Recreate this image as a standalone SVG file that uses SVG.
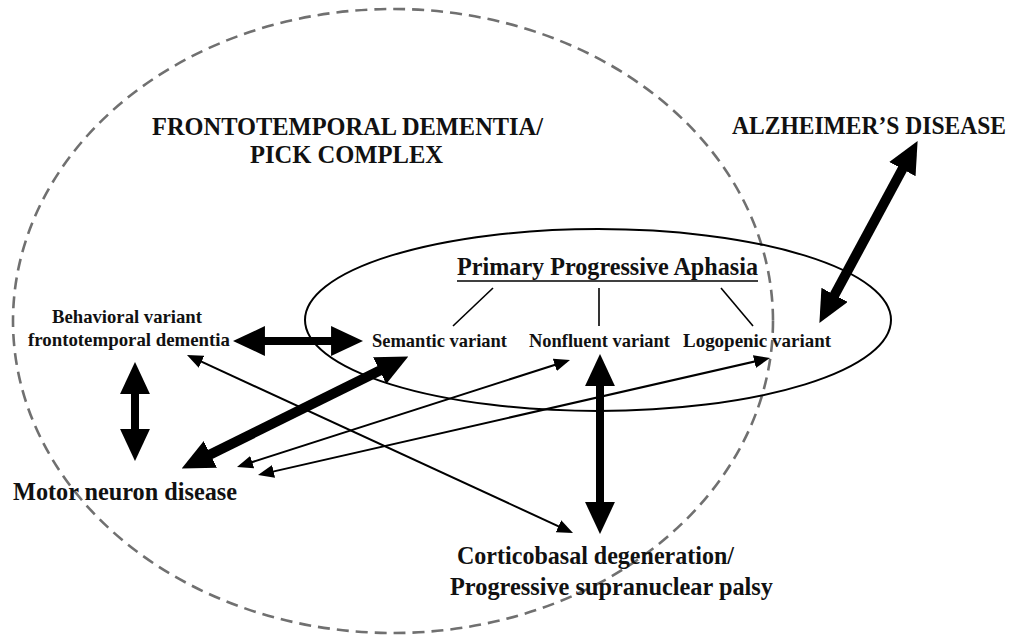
<svg xmlns="http://www.w3.org/2000/svg" width="1022" height="638" viewBox="0 0 1022 638">
<style>
  .t{font-family:"Liberation Serif","Times New Roman",serif;font-weight:bold;fill:#111;}
  .big{font-size:25px;}
  .mid{font-size:25px;}
  .sm{font-size:19.5px;}
  .thick{stroke:#000;fill:none;}
  .thin{stroke:#000;stroke-width:2;fill:none;marker-start:url(#sh);marker-end:url(#sh);}
  .tick{stroke:#000;stroke-width:1.6;fill:none;}
</style>
<defs>
  <marker id="bh" markerUnits="userSpaceOnUse" markerWidth="32" markerHeight="30" viewBox="0 0 30 28" refX="14" refY="14" orient="auto-start-reverse">
    <path d="M0,0 L30,14 L0,28 z" fill="#000"/>
  </marker>
  <marker id="sh" markerUnits="userSpaceOnUse" markerWidth="16" markerHeight="13" viewBox="0 0 16 13" refX="12" refY="6.5" orient="auto-start-reverse">
    <path d="M0,0 L16,6.5 L0,13 z" fill="#000"/>
  </marker>
</defs>
<rect width="1022" height="638" fill="#fff"/>

<g id="ftd-region">
  <ellipse cx="393" cy="321" rx="380" ry="312" fill="none" stroke="#707070" stroke-width="2.6" stroke-dasharray="12 7"/>
  <text class="t big" x="152" y="135" textLength="391" lengthAdjust="spacingAndGlyphs">FRONTOTEMPORAL DEMENTIA/</text>
  <text class="t big" x="250" y="163" textLength="193" lengthAdjust="spacingAndGlyphs">PICK COMPLEX</text>
</g>

<g id="ppa-region">
  <ellipse cx="598" cy="320" rx="293" ry="91" fill="none" stroke="#000" stroke-width="2"/>
  <text class="t mid" x="457" y="275" textLength="301" lengthAdjust="spacingAndGlyphs">Primary Progressive Aphasia</text>
  <line x1="457" y1="281" x2="758" y2="281" stroke="#000" stroke-width="1.6"/>
  <line class="tick" x1="493" y1="288" x2="453" y2="326"/>
  <line class="tick" x1="599" y1="288" x2="599" y2="326"/>
  <line class="tick" x1="721" y1="288" x2="753" y2="326"/>
</g>

<g id="alzheimers">
  <text class="t big" x="732" y="134" textLength="274" lengthAdjust="spacingAndGlyphs">ALZHEIMER’S DISEASE</text>
</g>

<g id="bvftd">
  <text class="t sm" x="52" y="323" textLength="150" lengthAdjust="spacingAndGlyphs">Behavioral variant</text>
  <text class="t sm" x="28" y="346" textLength="202" lengthAdjust="spacingAndGlyphs">frontotemporal dementia</text>
</g>

<g id="semantic">
  <text class="t sm" x="372" y="347" textLength="135" lengthAdjust="spacingAndGlyphs">Semantic variant</text>
</g>

<g id="nonfluent">
  <text class="t sm" x="529" y="347" textLength="141" lengthAdjust="spacingAndGlyphs">Nonfluent variant</text>
</g>

<g id="logopenic">
  <text class="t sm" x="683" y="347" textLength="148" lengthAdjust="spacingAndGlyphs">Logopenic variant</text>
</g>

<g id="mnd">
  <text class="t mid" x="13" y="500" textLength="224" lengthAdjust="spacingAndGlyphs">Motor neuron disease</text>
</g>

<g id="cbd-psp">
  <text class="t mid" x="457" y="564" textLength="277" lengthAdjust="spacingAndGlyphs">Corticobasal degeneration/</text>
  <text class="t mid" x="450" y="595" textLength="323" lengthAdjust="spacingAndGlyphs">Progressive supranuclear palsy</text>
</g>

<g id="connectors">
  <line class="thick" x1="250" y1="341" x2="346" y2="341" stroke-width="8" marker-start="url(#bh)" marker-end="url(#bh)"/>
  <line class="thick" x1="135" y1="379" x2="135" y2="444" stroke-width="8" marker-start="url(#bh)" marker-end="url(#bh)"/>
  <line class="thick" x1="197" y1="461" x2="393" y2="364" stroke-width="10" marker-start="url(#bh)" marker-end="url(#bh)"/>
  <line class="thick" x1="600" y1="371" x2="600" y2="517" stroke-width="8" marker-start="url(#bh)" marker-end="url(#bh)"/>
  <line class="thick" x1="827.5" y1="308" x2="909.5" y2="156" stroke-width="10" marker-start="url(#bh)" marker-end="url(#bh)"/>
  <line class="thin" x1="190.6" y1="356.7" x2="569.4" y2="531.3"/>
  <line class="thin" x1="566.2" y1="361.2" x2="240.8" y2="465.8"/>
  <line class="thin" x1="766.1" y1="358.9" x2="261.9" y2="474.1"/>
</g>
</svg>
